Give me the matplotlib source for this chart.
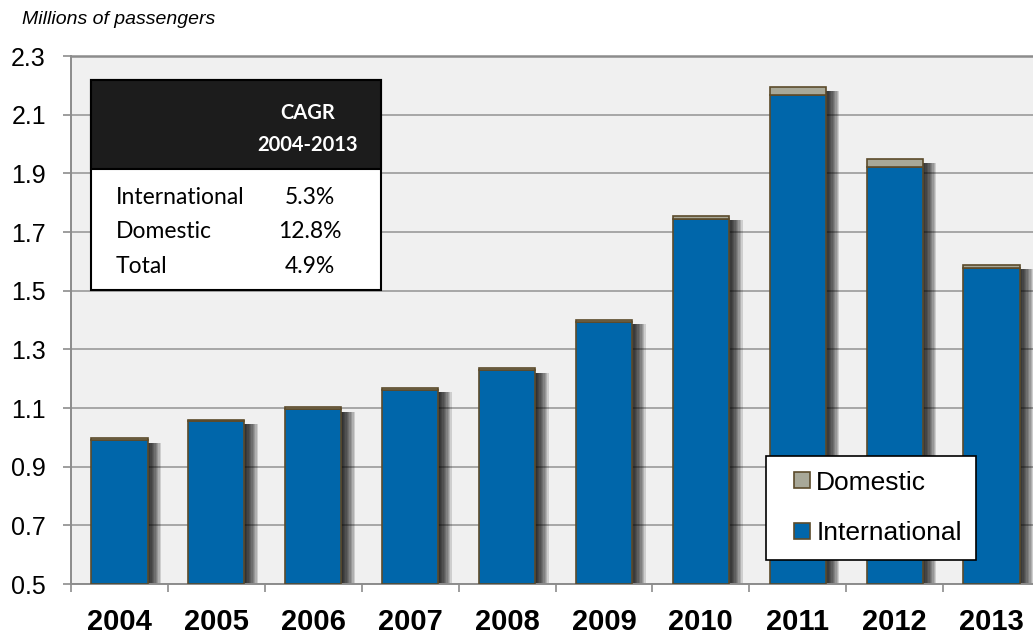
import matplotlib.pyplot as plt
from matplotlib.patches import Rectangle
from matplotlib.container import BarContainer
from matplotlib.legend_handler import HandlerPatch, update_from_first_child
import numpy as np

years = ['2004', '2005', '2006', '2007', '2008', '2009', '2010', '2011', '2012', '2013']
international = [0.992, 1.054, 1.097, 1.162, 1.229, 1.393, 1.743, 2.167, 1.923, 1.576]
domestic = [0.005, 0.005, 0.005, 0.006, 0.007, 0.007, 0.012, 0.028, 0.027, 0.013]
cagr_rows = ['International', 'Domestic', 'Total']
cagr_vals = ['5.3%', '12.8%', '4.9%']

blue = '#0066AA'
grey = '#A8A898'
edge = '#5C4B2B'

W, H = 1033, 637
fig = plt.figure(figsize=(W / 100, H / 100), dpi=100)
ax = fig.add_axes([71 / W, 53 / H, 969 / W, 528 / H])
ax.set_facecolor('#F0F0F0')

x = np.arange(len(years))
inter = np.array(international)
dom = np.array(domestic)
total = inter + dom
bw = 0.58

# soft drop shadow on the right of each bar
for off in np.linspace(0.014, 0.14, 10):
    ax.bar(x + off, total - 0.5 - 0.015, bw, bottom=0.5, color='black', alpha=0.14,
           linewidth=0, zorder=2)

ax.bar(x, inter - 0.5, bw, bottom=0.5, color=blue, edgecolor=edge, linewidth=1.2,
       label='International', zorder=3)
ax.bar(x, dom, bw, bottom=inter, color=grey, edgecolor=edge, linewidth=1.2,
       label='Domestic', zorder=3)

ax.set_xlim(-0.5, len(years) - 0.5)
ax.set_ylim(0.5, 2.3)
yt = np.arange(0.5, 2.31, 0.2)
ax.set_yticks(yt)
ax.set_yticklabels(['%.1f' % v for v in yt], fontsize=18, family='Liberation Sans')
ax.yaxis.grid(True, color='#A6A6A6', linewidth=1.4, zorder=1)
ax.set_axisbelow(True)
ax.tick_params(axis='y', direction='out', length=6, width=1.2, color='#8C8C8C', pad=12)

ax.set_xticks(x)
ax.set_xticklabels(years, fontsize=21, fontweight='bold', family='Liberation Sans')
ax.set_xticks(np.arange(-0.5, len(years), 1.0), minor=True)
ax.tick_params(axis='x', which='major', length=0, pad=17)
ax.tick_params(axis='x', which='minor', direction='out', length=6, width=1.2, color='#8C8C8C')

for s in ['left', 'bottom']:
    ax.spines[s].set_color('#8C8C8C')
    ax.spines[s].set_linewidth(1.4)
ax.spines['top'].set_color('#8C8C8C')
ax.spines['top'].set_linewidth(1.8)
ax.spines['right'].set_visible(False)

fig.text(22 / W, 1 - 19 / H, 'Millions of passengers', fontsize=14, style='italic',
         family='Liberation Sans', va='center', ha='left')

# CAGR box
bx0, by0, bx1, by1, hy = 91, 80, 381, 290, 169
fig.patches.append(Rectangle((bx0 / W, 1 - by1 / H), (bx1 - bx0) / W, (by1 - by0) / H,
                             transform=fig.transFigure, facecolor='white', edgecolor='black',
                             linewidth=1.5, zorder=5))
fig.patches.append(Rectangle((bx0 / W, 1 - hy / H), (bx1 - bx0) / W, (hy - by0) / H,
                             transform=fig.transFigure, facecolor='#1C1C1C', edgecolor='black',
                             linewidth=1.5, zorder=5))
fig.text(308 / W, 1 - 113 / H, 'CAGR', color='white', fontsize=14.5, fontweight='bold',
         family='Lato', ha='center', va='center', zorder=6)
fig.text(308 / W, 1 - 145 / H, '2004-2013', color='white', fontsize=14.5, fontweight='bold',
         family='Lato', ha='center', va='center', zorder=6)
for i, (lab, val) in enumerate(zip(cagr_rows, cagr_vals)):
    yy = 1 - (197 + i * 34.5) / H
    fig.text(116 / W, yy, lab, fontsize=16.5, family='Lato', ha='left', va='center', zorder=6)
    fig.text(310 / W, yy, val, fontsize=16.5, family='Lato', ha='center', va='center', zorder=6)


def square(legend, orig_handle, xdescent, ydescent, width, height, fontsize):
    return Rectangle((-xdescent + width - height, -ydescent), height, height)


h, l = ax.get_legend_handles_labels()
leg = ax.legend(h[::-1], l[::-1], loc='upper left', bbox_to_anchor=(766 / W, 1 - 456 / H),
                bbox_transform=fig.transFigure, prop={'family': 'Liberation Sans', 'size': 19},
                frameon=True, fancybox=False, framealpha=1, edgecolor='black',
                handlelength=1.12, handleheight=0.57, handletextpad=0.23, labelspacing=1.02,
                borderpad=0.55, borderaxespad=0,
                handler_map={BarContainer: HandlerPatch(patch_func=square,
                                                        update_func=update_from_first_child)})
leg.get_frame().set_linewidth(1.2)
leg.set_zorder(10)

fig.savefig('out.png', dpi=100)
